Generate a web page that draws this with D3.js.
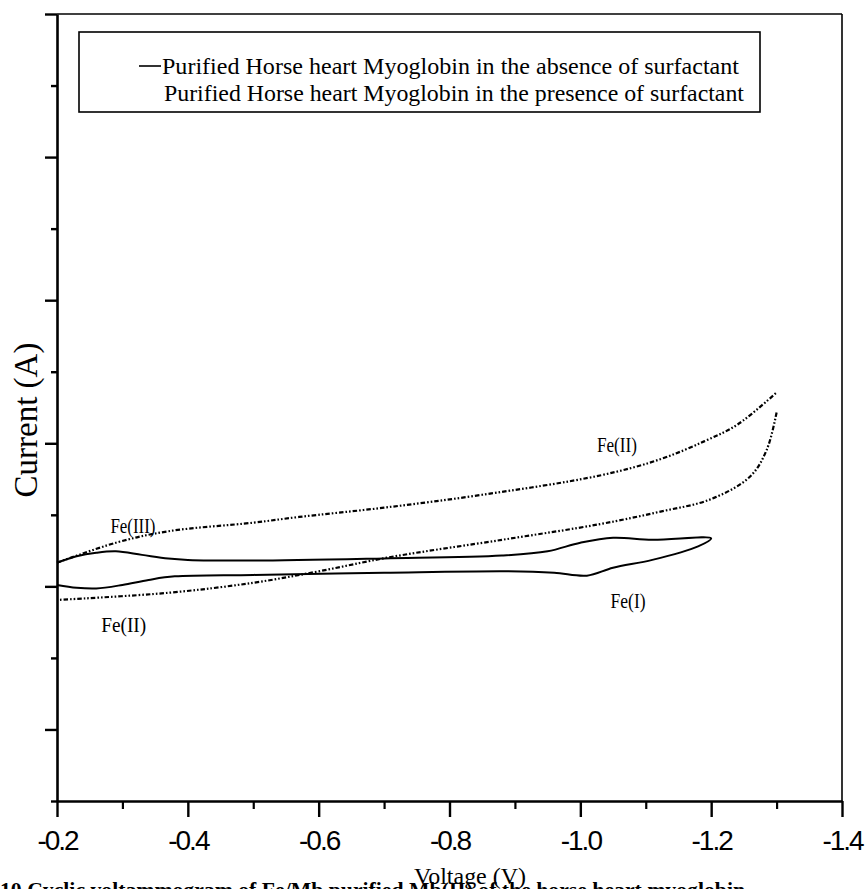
<!DOCTYPE html>
<html>
<head>
<meta charset="utf-8">
<script src="https://cdn.jsdelivr.net/npm/d3@7"></script>
<style>
  html, body { margin: 0; padding: 0; background: #fff; }
  svg { display: block; }
</style>
</head>
<body>
<svg id="chart" width="868" height="889"></svg>
<script>
// Cyclic voltammograms of purified horse heart myoglobin (potential in V, current in arbitrary units)

// Absence of surfactant: cathodic sweep (toward -1.2 V) and anodic return
const noSurfFwdV = [-0.20, -0.23, -0.26, -0.29, -0.33, -0.37, -0.40, -0.50, -0.70, -0.88, -0.95, -1.00, -1.05, -1.11, -1.20];
const noSurfFwdI = [0.33, 0.42, 0.47, 0.49, 0.44, 0.39, 0.37, 0.36, 0.39, 0.43, 0.49, 0.61, 0.68, 0.65, 0.67];
const noSurfRevV = [-1.20, -1.18, -1.11, -1.05, -1.01, -0.96, -0.89, -0.70, -0.50, -0.38, -0.34, -0.30, -0.26, -0.23, -0.20];
const noSurfRevI = [0.67, 0.56, 0.37, 0.26, 0.15, 0.19, 0.21, 0.19, 0.16, 0.14, 0.09, 0.02, -0.03, -0.02, 0.02];

// Presence of surfactant: upper and lower branches (toward -1.3 V)
const surfUpV = [-0.20, -0.29, -0.37, -0.50, -0.57, -0.70, -0.85, -1.03, -1.12, -1.19, -1.24, -1.30];
const surfUpI = [0.33, 0.61, 0.77, 0.89, 0.97, 1.10, 1.28, 1.55, 1.77, 2.03, 2.26, 2.71];
const surfLowV = [-1.30, -1.285, -1.26, -1.20, -1.12, -1.03, -0.88, -0.71, -0.60, -0.50, -0.37, -0.20];
const surfLowI = [2.43, 1.91, 1.54, 1.22, 1.04, 0.87, 0.65, 0.41, 0.21, 0.05, -0.09, -0.19];

// Peak annotations
const peakLabels = ["Fe(III)", "Fe(II)", "Fe(II)", "Fe(I)"];
const peakV = [-0.316, -0.302, -1.056, -1.073];
const peakI = [0.84, -0.54, 1.98, -0.20];

// Axis ticks
const xMajorTicks = [-0.2, -0.4, -0.6, -0.8, -1.0, -1.2, -1.4];
const xMinorTicks = [-0.3, -0.5, -0.7, -0.9, -1.1, -1.3];
const yTicks = [-3, -2, -1, 0, 1, 2, 3, 4, 5, 6, 7, 8];

const legendLabels = [
  "Purified Horse heart Myoglobin in the absence of surfactant",
  "Purified Horse heart Myoglobin in the presence of surfactant"
];
const xTitle = "Voltage (V)";
const yTitle = "Current (A)";
const caption = "10 Cyclic voltammogram of Fe/Mb purified Mb(II) of the horse heart myoglobin";

const svg = d3.select("#chart");
const plotLeft = 57, plotRight = 842, plotTop = 14, plotBottom = 801;

const x = d3.scaleLinear().domain([-0.2, -1.4]).range([plotLeft, plotRight]);
const y = d3.scaleLinear().domain([-3, 8]).range([plotBottom, plotTop]);

const serif = "'Liberation Serif', 'Times New Roman', serif";
const sans = "'Liberation Sans', Arial, sans-serif";

// frame on top and right
svg.append("line").attr("x1", plotLeft).attr("x2", plotRight).attr("y1", plotTop).attr("y2", plotTop)
  .attr("stroke", "#000").attr("stroke-width", 1.6);
svg.append("line").attr("x1", plotRight).attr("x2", plotRight).attr("y1", plotTop).attr("y2", plotBottom)
  .attr("stroke", "#000").attr("stroke-width", 1.6);

// y axis: long ticks on even values, short ticks on odd values, no labels
const yAxis = svg.append("g").attr("transform", `translate(${plotLeft},0)`)
  .call(d3.axisLeft(y).tickValues(yTicks).tickFormat("").tickSizeOuter(0));
yAxis.selectAll(".tick line")
  .attr("x2", d => (d % 2 === 0 ? -12 : -6))
  .attr("stroke-width", 2.4);
yAxis.select(".domain").attr("stroke-width", 2.6);

// x axis: labelled major ticks and shorter minor ticks
const xAxis = svg.append("g").attr("transform", `translate(0,${plotBottom})`)
  .call(d3.axisBottom(x).tickValues(xMajorTicks).tickSize(16).tickSizeOuter(0)
    .tickPadding(13).tickFormat(d => d.toFixed(1)));
xAxis.select(".domain").attr("stroke-width", 2.6);
xAxis.selectAll(".tick line").attr("stroke-width", 2.4);
xAxis.selectAll(".tick text")
  .attr("font-family", sans).attr("font-size", 28)
  .attr("letter-spacing", "-2px").attr("fill", "#000");

svg.append("g").attr("transform", `translate(0,${plotBottom})`)
  .call(d3.axisBottom(x).tickValues(xMinorTicks).tickSize(8).tickFormat(""))
  .call(g => g.select(".domain").remove())
  .selectAll(".tick line").attr("stroke-width", 2.2);

// axis titles
svg.append("text").attr("x", 470).attr("y", 884)
  .attr("text-anchor", "middle").attr("font-family", serif).attr("font-size", 24)
  .attr("textLength", 112).attr("lengthAdjust", "spacingAndGlyphs")
  .text(xTitle);
svg.append("text").attr("transform", `translate(37,${420}) rotate(-90)`)
  .attr("text-anchor", "middle").attr("font-family", serif).attr("font-size", 33)
  .text(yTitle);

// curves
const line = d3.line().x(d => x(d[0])).y(d => y(d[1])).curve(d3.curveCatmullRom.alpha(0.5));
const zip = (a, b) => a.map((v, i) => [v, b[i]]);

const dashPattern = "4.5,2,1.6,2,1.6,2";
[[surfUpV, surfUpI], [surfLowV, surfLowI]].forEach(([v, i]) => {
  svg.append("path").datum(zip(v, i)).attr("d", line)
    .attr("fill", "none").attr("stroke", "#000").attr("stroke-width", 2.2)
    .attr("stroke-dasharray", dashPattern);
});
svg.append("path").datum(zip(noSurfFwdV, noSurfFwdI).concat(zip(noSurfRevV, noSurfRevI).slice(1)))
  .attr("d", line).attr("fill", "none").attr("stroke", "#000").attr("stroke-width", 2);

// peak labels
const labelWidths = [45, 45, 40, 35];
peakLabels.forEach((t, k) => {
  svg.append("text").attr("x", x(peakV[k])).attr("y", y(peakI[k]) + 7)
    .attr("text-anchor", "middle").attr("font-family", serif).attr("font-size", 22)
    .attr("textLength", labelWidths[k]).attr("lengthAdjust", "spacingAndGlyphs")
    .text(t);
});

// legend
const lg = svg.append("g");
lg.append("rect").attr("x", 79).attr("y", 32).attr("width", 681).attr("height", 80)
  .attr("fill", "#fff").attr("stroke", "#000").attr("stroke-width", 1.6);
lg.append("line").attr("x1", 139).attr("x2", 161).attr("y1", 66).attr("y2", 66)
  .attr("stroke", "#000").attr("stroke-width", 1.6);
lg.append("text").attr("x", 162).attr("y", 74).attr("font-family", serif).attr("font-size", 24)
  .attr("textLength", 577).attr("lengthAdjust", "spacingAndGlyphs").text(legendLabels[0]);
lg.append("text").attr("x", 164).attr("y", 101).attr("font-family", serif).attr("font-size", 24)
  .attr("textLength", 580).attr("lengthAdjust", "spacingAndGlyphs").text(legendLabels[1]);

// figure caption running off the bottom edge
svg.append("text").attr("x", 0).attr("y", 897).attr("font-family", serif)
  .attr("font-weight", "bold").attr("font-size", 20)
  .attr("textLength", 745).attr("lengthAdjust", "spacingAndGlyphs").text(caption);
</script>
</body>
</html>
